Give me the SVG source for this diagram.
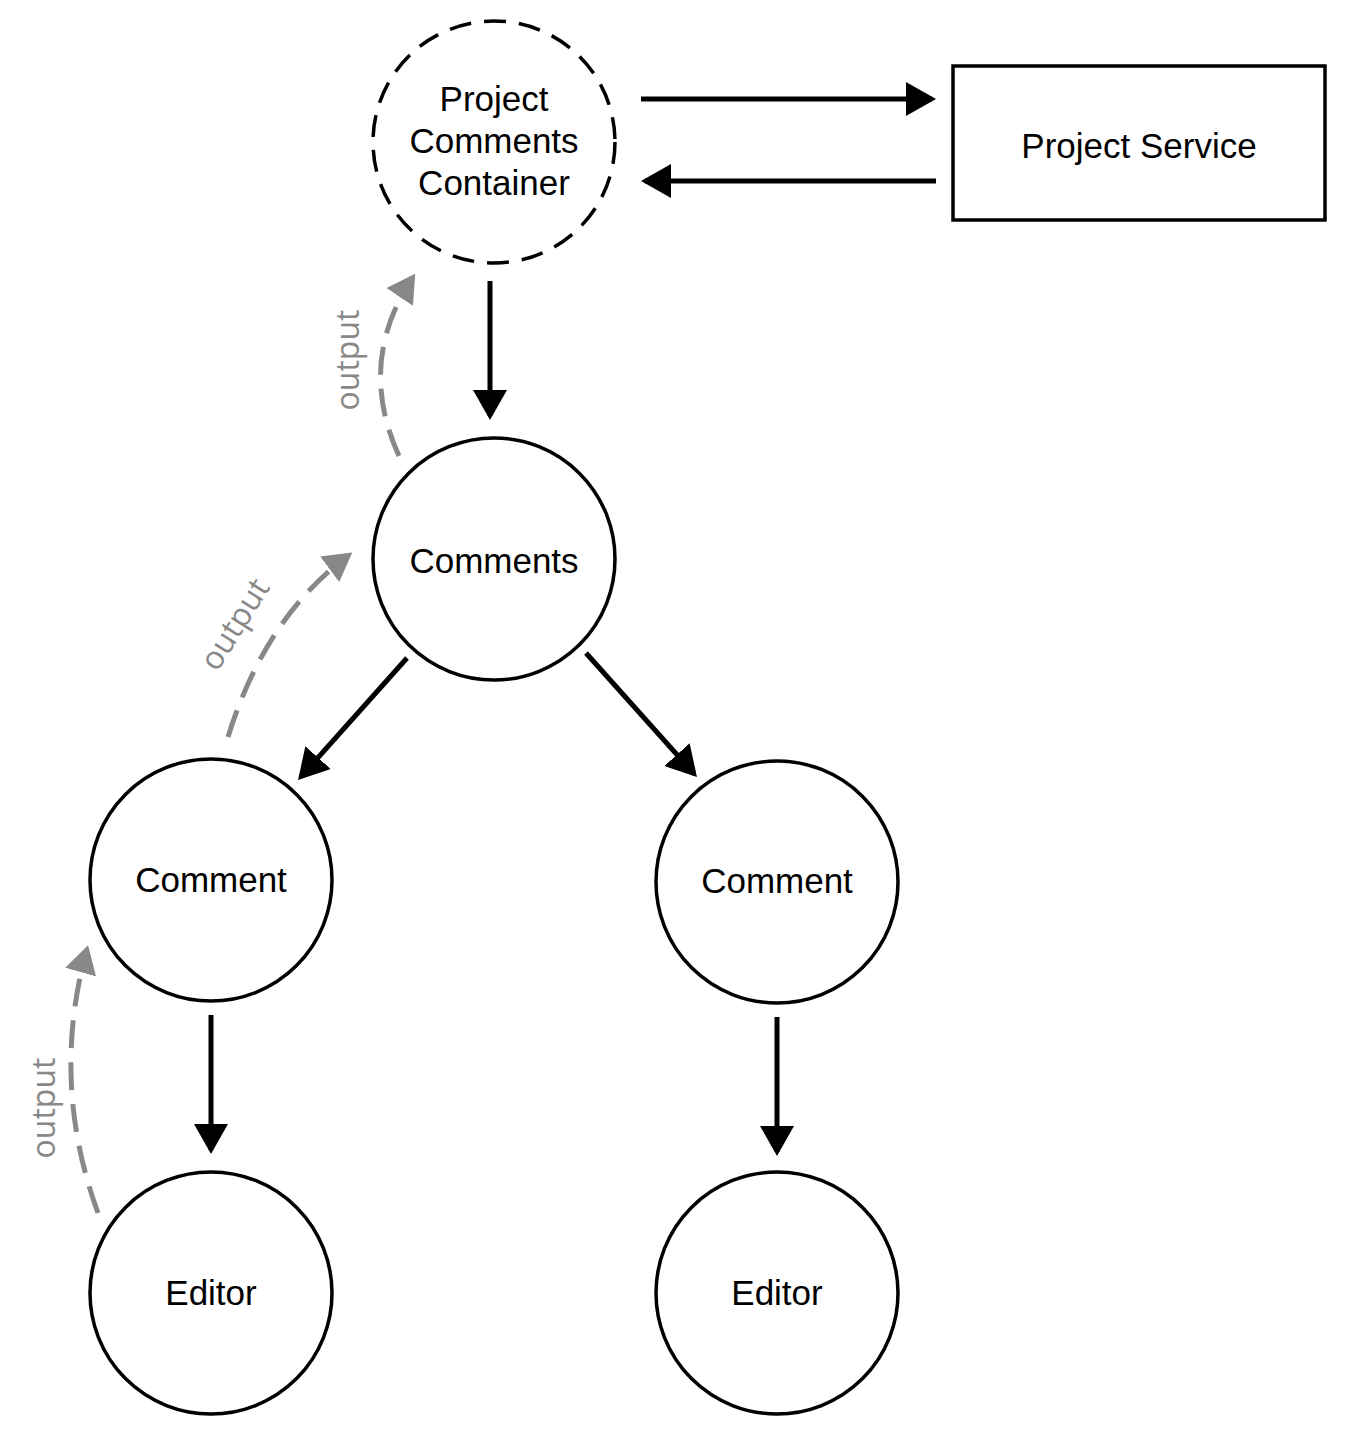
<svg xmlns="http://www.w3.org/2000/svg" width="1347" height="1437" viewBox="0 0 1347 1437">
<style>
.node{fill:#fff;stroke:#000;stroke-width:3.5}
.dash{stroke-dasharray:22 13}
.lbl{font-family:"Liberation Sans",Arial,sans-serif;font-size:35px;fill:#000;text-anchor:middle}
.edge{stroke:#000;stroke-width:5;fill:none;marker-end:url(#ah)}
.out{stroke:#888;stroke-width:5;fill:none;stroke-dasharray:28 14;marker-end:url(#ag)}
.ol{font-family:"Open Sans","DejaVu Sans",sans-serif;font-size:32px;fill:#888;text-anchor:middle}
</style>
<defs>
<marker id="ah" markerUnits="userSpaceOnUse" markerWidth="30" markerHeight="34" viewBox="0 0 30 34" refX="26" refY="17" orient="auto"><path d="M0,0 L30,17 L0,34 z" fill="#000"/></marker>
<marker id="ag" markerUnits="userSpaceOnUse" markerWidth="28" markerHeight="32" viewBox="0 0 28 32" refX="24" refY="16" orient="auto"><path d="M0,0 L28,16 L0,32 z" fill="#888"/></marker>
</defs>
<rect width="1347" height="1437" fill="#fff"/>
<g id="connectors">
<line class="edge" x1="641" y1="99" x2="932" y2="99"/>
<line class="edge" x1="936" y1="181" x2="645" y2="181"/>
<line class="edge" x1="490" y1="281" x2="490" y2="416"/>
<line class="edge" x1="407" y1="658" x2="300.7" y2="777"/>
<line class="edge" x1="586" y1="653" x2="694.3" y2="774"/>
<line class="edge" x1="211" y1="1015" x2="211" y2="1150"/>
<line class="edge" x1="777" y1="1017" x2="777" y2="1152"/>
<path class="out" d="M399,456 Q356,362 413,277"/>
<path class="out" d="M228,737 Q265,617 349,555"/>
<path class="out" d="M98,1213 Q50,1082 87,949"/>
<text class="ol" transform="translate(359,360) rotate(-90)">output</text>
<text class="ol" transform="translate(244,630) rotate(-58)">output</text>
<text class="ol" transform="translate(55,1108) rotate(-90)">output</text>
</g>
<g id="container">
<circle class="node dash" cx="494" cy="142" r="121"/>
<text class="lbl" x="494" y="111">Project</text>
<text class="lbl" x="494" y="153">Comments</text>
<text class="lbl" x="494" y="195">Container</text>
</g>
<g id="service">
<rect class="node" x="953" y="66" width="372" height="154"/>
<text class="lbl" x="1139" y="158">Project Service</text>
</g>
<g id="comments">
<circle class="node" cx="494" cy="559" r="121"/>
<text class="lbl" x="494" y="573">Comments</text>
</g>
<g id="comment-left">
<circle class="node" cx="211" cy="880" r="121"/>
<text class="lbl" x="211" y="892">Comment</text>
</g>
<g id="comment-right">
<circle class="node" cx="777" cy="882" r="121"/>
<text class="lbl" x="777" y="893">Comment</text>
</g>
<g id="editor-left">
<circle class="node" cx="211" cy="1293" r="121"/>
<text class="lbl" x="211" y="1305">Editor</text>
</g>
<g id="editor-right">
<circle class="node" cx="777" cy="1293" r="121"/>
<text class="lbl" x="777" y="1305">Editor</text>
</g>
</svg>
